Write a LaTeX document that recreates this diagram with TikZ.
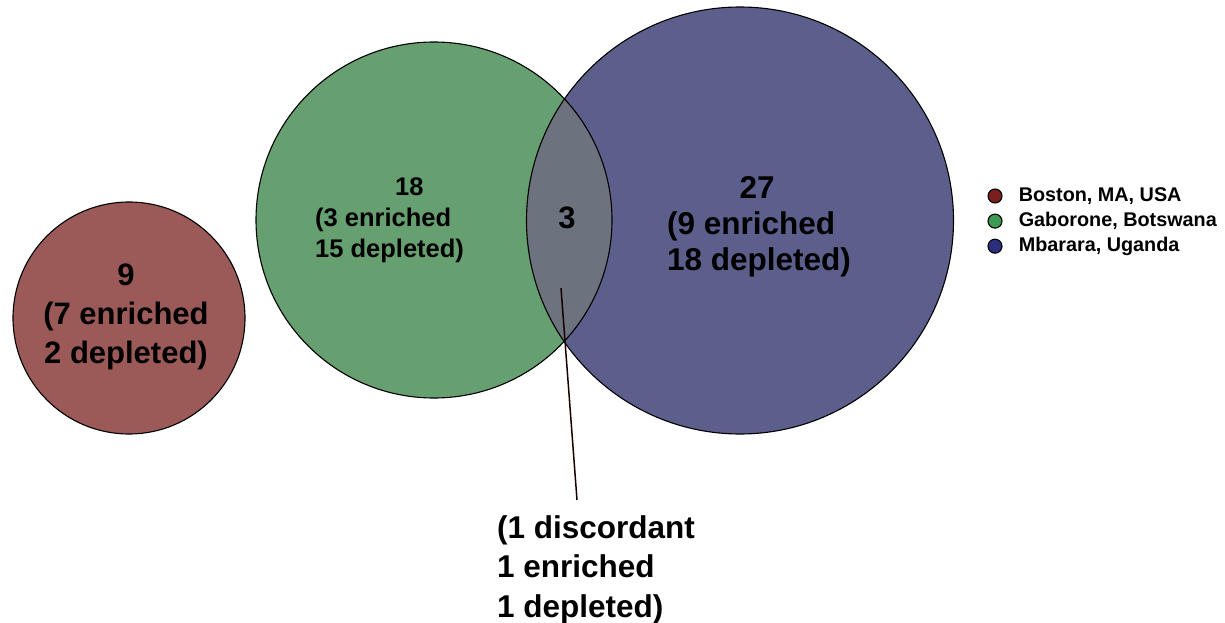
\documentclass[tikz,border=0pt]{standalone}
\usepackage{fontspec}
\setmainfont{Liberation Sans}
\usepackage{xcolor}
\usepackage{tikz}
\usetikzlibrary{positioning}

\definecolor{bostonFill}{HTML}{9B5A57}
\definecolor{gaboFill}{HTML}{66A071}
\definecolor{mbarFill}{HTML}{5C5E8B}
\definecolor{lensFill}{HTML}{6C727E}
\definecolor{bostonDot}{HTML}{7B1E1E}
\definecolor{gaboDot}{HTML}{3C9A55}
\definecolor{mbarDot}{HTML}{2C2F7C}

\begin{document}
\begin{tikzpicture}[
    x=1pt, y=-1pt, % one unit per pixel, y pointing down
    node distance=10pt and 16pt, % legend spacing
    % Styling for the sets
    vennCircle/.style={
        circle,
        inner sep=0pt
    },
    vennEdge/.style={draw=black, line width=1.1pt},
    countText/.style={
        inner sep=0pt,
        align=left,
        font=\bfseries\fontsize{31}{39}\selectfont
    },
    legendDot/.style={
        circle,
        draw=black,
        line width=1.1pt,
        minimum size=14pt,
        inner sep=0pt
    },
    legendText/.style={
        inner sep=0pt,
        font=\bfseries\fontsize{19.8}{24}\selectfont
    }
]
    \useasboundingbox (0,0) rectangle (1225,623);

    % Define Sets
    \node[vennCircle, fill=bostonFill, minimum size=232pt] (boston) at (129,318) {};
    \node[vennCircle, fill=gaboFill, minimum size=356pt] (gabo) at (434,220) {};
    \node[vennCircle, fill=mbarFill, minimum size=427pt] (mbar) at (740,220.5) {};

    % Overlap
    \begin{scope}
        \clip (gabo.center) circle[radius=178pt];
        \fill[lensFill] (mbar.center) circle[radius=213.5pt];
    \end{scope}

    % Outlines
    \draw[vennEdge] (boston.center) circle[radius=116pt];
    \draw[vennEdge] (gabo.center) circle[radius=178pt];
    \draw[vennEdge] (mbar.center) circle[radius=213.5pt];

    % Counts
    \node[countText, align=center, anchor=north] (bostonTxt) at (126,264)
        {9\\(7 enriched\\2 depleted)};
    \node[countText, anchor=north west, font=\bfseries\fontsize{25.5}{31}\selectfont] (gaboTxt) at (315,177)
        {\hspace*{80pt}18\\(3 enriched\\15 depleted)};
    \node[countText, anchor=north west, font=\bfseries\fontsize{31.5}{36}\selectfont] (mbarTxt) at (667,176)
        {\hspace*{72.5pt}27\\(9 enriched\\18 depleted)};
    \node[countText] (lensTxt) at (567,218) {3};
    \node[countText, anchor=north west, font=\bfseries\fontsize{31.5}{39.5}\selectfont] (discTxt) at (497,515)
        {(1 discordant\\1 enriched\\1 depleted)};

    % Pointer
    \coordinate (lensPt) at (561,288);
    \coordinate (discPt) at (577,500);
    \draw[line width=1.5pt, draw=black!90!red] (lensPt) -- (discPt);

    % Legend
    \node[legendDot, fill=bostonDot] (dotBoston) at (995,196) {};
    \node[legendDot, fill=gaboDot] (dotGabo) [below=of dotBoston] {};
    \node[legendDot, fill=mbarDot] (dotMbar) [below=of dotGabo] {};
    \node[legendText] (legBoston) [right=of dotBoston] {Boston, MA, USA};
    \node[legendText] (legGabo) [right=of dotGabo] {Gaborone, Botswana};
    \node[legendText] (legMbar) [right=of dotMbar] {Mbarara, Uganda};

\end{tikzpicture}
\end{document}
